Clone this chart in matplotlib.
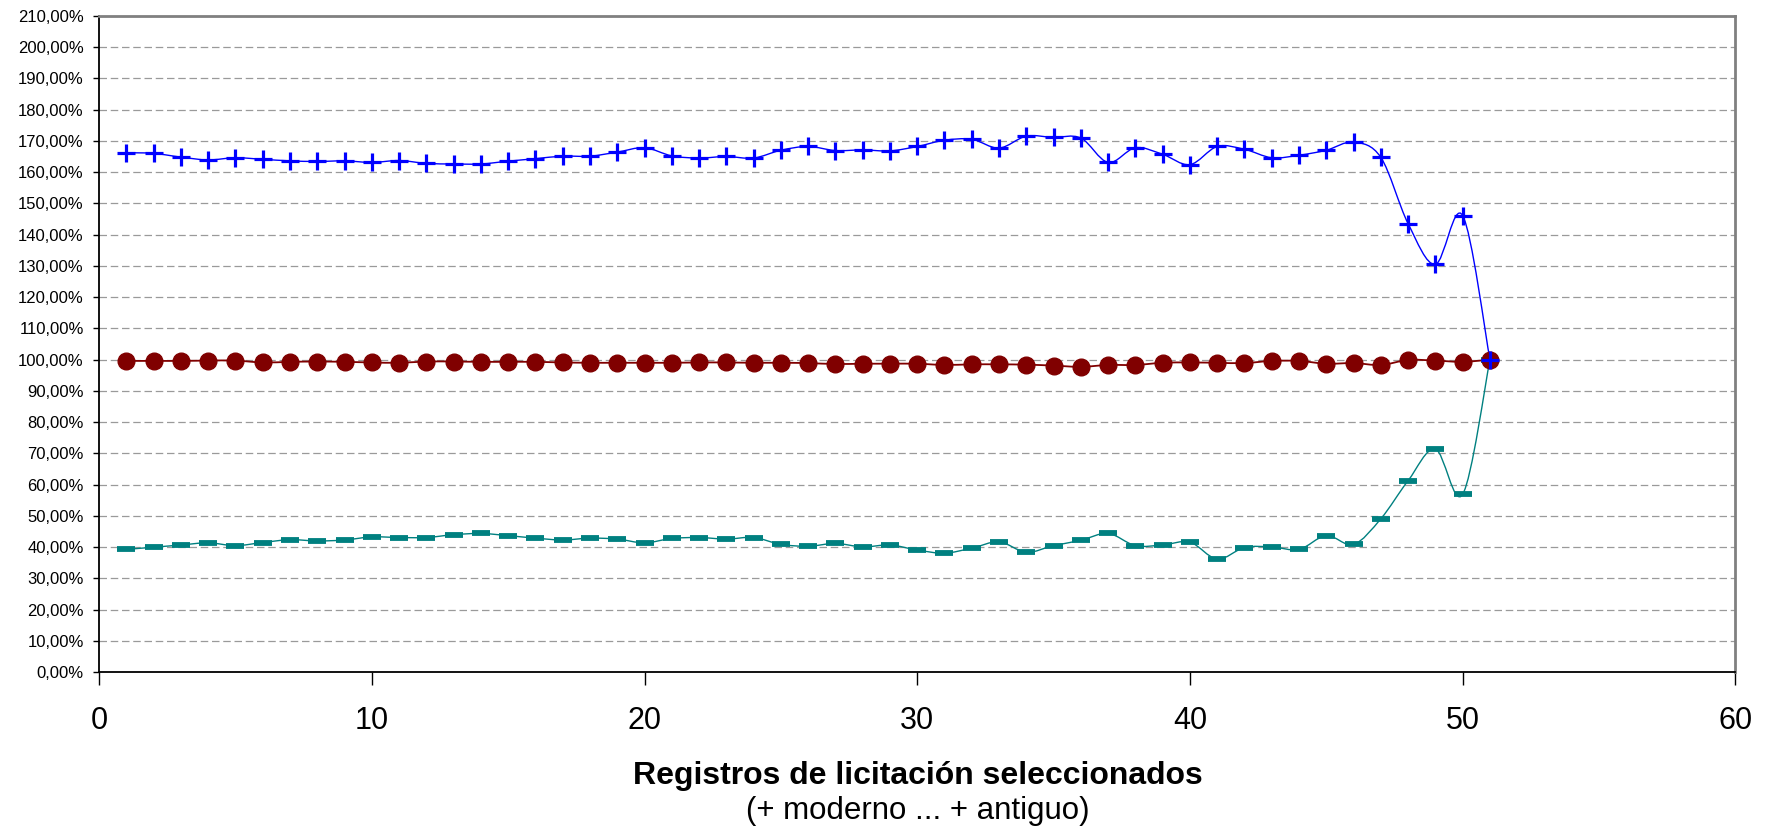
import numpy as np
import matplotlib
matplotlib.use('Agg')
import matplotlib.pyplot as plt
from matplotlib.path import Path
from matplotlib.patches import PathPatch
from matplotlib.ticker import FuncFormatter, MultipleLocator

plt.rcParams['font.family'] = ['Liberation Sans', 'DejaVu Sans']

# registros 1..51
registros = np.arange(1, 52)

serie_azul = [166.2, 166.0, 164.8, 163.9, 164.6, 164.1, 163.6, 163.4, 163.6, 163.1,
              163.7, 162.8, 162.6, 162.6, 163.5, 164.3, 165.1, 165.1, 166.4, 167.8,
              165.2, 164.5, 165.0, 164.5, 167.0, 168.2, 166.9, 167.1, 166.8, 168.2,
              170.2, 170.5, 167.7, 171.5, 171.1, 170.9, 163.1, 167.8, 165.7, 162.4,
              168.2, 167.3, 164.6, 165.4, 167.0, 169.6, 164.7, 143.5, 130.5, 146.1,
              100.0]

serie_roja = [99.6, 99.6, 99.6, 99.7, 99.7, 99.1, 99.3, 99.4, 99.3, 99.1,
              99.0, 99.4, 99.4, 99.3, 99.3, 99.3, 99.1, 99.0, 99.0, 99.0,
              99.0, 99.1, 99.1, 99.0, 99.0, 98.9, 98.6, 98.7, 98.7, 98.7,
              98.3, 98.5, 98.5, 98.4, 98.1, 97.7, 98.3, 98.3, 99.0, 99.1,
              99.0, 98.9, 99.6, 99.6, 98.7, 98.9, 98.3, 99.9, 99.7, 99.3,
              100.0]

serie_verde = [39.3, 40.0, 40.7, 41.4, 40.5, 41.5, 42.4, 42.0, 42.3, 43.3,
               43.1, 43.1, 44.0, 44.4, 43.7, 42.9, 42.3, 42.9, 42.6, 41.4,
               42.8, 43.1, 42.6, 43.1, 40.9, 40.3, 41.2, 40.1, 40.7, 39.1,
               38.1, 39.7, 41.7, 38.4, 40.5, 42.2, 44.4, 40.5, 40.7, 41.6,
               36.2, 39.9, 40.1, 39.3, 43.7, 40.9, 49.1, 61.3, 71.4, 56.9,
               100.0]


def curva_suave(x, y):
    # Bezier tipo Catmull-Rom (como las lineas suavizadas de Excel)
    p = np.column_stack([x, y]).astype(float)
    ext = np.vstack([p[0], p, p[-1]])
    verts = [p[0]]
    codes = [Path.MOVETO]
    for i in range(len(p) - 1):
        p0, p1, p2, p3 = ext[i], ext[i + 1], ext[i + 2], ext[i + 3]
        verts += [p1 + (p2 - p0) / 6, p2 - (p3 - p1) / 6, p2]
        codes += [Path.CURVE4] * 3
    return Path(verts, codes)


fig = plt.figure(figsize=(17.69, 8.33), dpi=100)
ax = fig.add_axes([0.056, 0.193, 0.925, 0.788])

estilos = [
    (serie_verde, '#008080', '_', 12.5, 4.2, 1.0),
    (serie_roja, '#800000', 'o', 12, 1.0, 1.3),
    (serie_azul, '#0000FF', '+', 13, 2.3, 1.0),
]
for datos, color, marca, ms, mew, lw in estilos:
    ax.add_patch(PathPatch(curva_suave(registros, datos), fill=False,
                           edgecolor=color, lw=lw, zorder=3))
    ax.plot(registros, datos, linestyle='none', marker=marca, ms=ms,
            mew=mew, color=color, mec=color, zorder=4)

ax.set_xlim(0, 60)
ax.set_ylim(0, 210)
ax.xaxis.set_major_locator(MultipleLocator(10))
ax.yaxis.set_major_locator(MultipleLocator(10))
ax.yaxis.set_major_formatter(FuncFormatter(lambda v, p: f'{v:.2f}'.replace('.', ',') + '%'))

ax.grid(axis='y', color='#9a9a9a', linestyle=(0, (6, 3)), lw=0.9, zorder=1)
ax.set_axisbelow(True)

ax.tick_params(axis='y', direction='out', length=4.5, width=1, labelsize=12, pad=6.5)
ax.tick_params(axis='x', direction='out', length=9, width=1, labelsize=22, pad=15)

for lado in ['left', 'bottom']:
    ax.spines[lado].set_color('black')
    ax.spines[lado].set_linewidth(1.3)
for lado in ['top', 'right']:
    ax.spines[lado].set_color('#808080')
    ax.spines[lado].set_linewidth(2)

fig.text(0.519, 0.069, 'Registros de licitación seleccionados', ha='center', va='center',
         fontsize=23, fontweight='bold')
fig.text(0.519, 0.026, '(+ moderno ... + antiguo)', ha='center', va='center', fontsize=22.5)

fig.savefig('out.png', dpi=100)
